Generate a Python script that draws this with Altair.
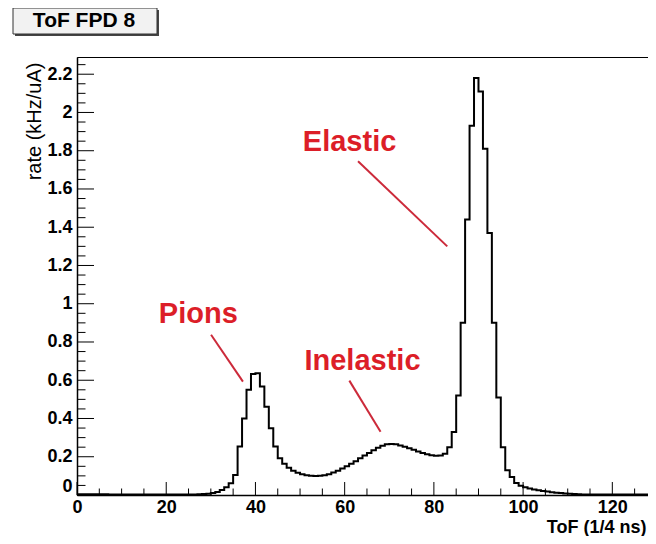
import altair as alt
import pandas as pd

# ---- data ----
tof_bins = list(range(0, 128))
rate = [
    0.004, 0.004, 0.004, 0.004, 0.004, 0.004, 0.004, 0.003, 0.003, 0.003,   # 0-9
    0.003, 0.003, 0.003, 0.003, 0.003, 0.003, 0.002, 0.002, 0.002, 0.002,   # 10-19
    0.002, 0.002, 0.002, 0.002, 0.002, 0.003, 0.003, 0.004, 0.005, 0.007,   # 20-29
    0.010, 0.016, 0.026, 0.040, 0.062, 0.105, 0.253, 0.400, 0.550, 0.632,   # 30-39
    0.637, 0.567, 0.462, 0.349, 0.253, 0.192, 0.164, 0.142, 0.127, 0.116,   # 40-49
    0.108, 0.103, 0.100, 0.099, 0.100, 0.103, 0.109, 0.117, 0.127, 0.138,   # 50-59
    0.150, 0.163, 0.177, 0.192, 0.206, 0.220, 0.234, 0.247, 0.258, 0.265,   # 60-69
    0.267, 0.265, 0.259, 0.252, 0.244, 0.236, 0.228, 0.220, 0.213, 0.208,   # 70-79
    0.205, 0.207, 0.216, 0.250, 0.330, 0.520, 0.900, 1.440, 1.930, 2.180,   # 80-89
    2.110, 1.810, 1.370, 0.900, 0.510, 0.250, 0.130, 0.094, 0.063, 0.048,   # 90-99
    0.040, 0.034, 0.029, 0.025, 0.021, 0.018, 0.015, 0.012, 0.010, 0.008,   # 100-109
    0.006, 0.005, 0.004, 0.003, 0.002, 0.002, 0.002, 0.002, 0.002, 0.002,   # 110-119
    0.002, 0.002, 0.002, 0.002, 0.002, 0.002, 0.002, 0.002,                 # 120-127
]
x_major = [0, 20, 40, 60, 80, 100, 120]
x_minor = [v for v in range(5, 130, 5) if v % 20 != 0]
y_major = [0, 0.2, 0.4, 0.6, 0.8, 1, 1.2, 1.4, 1.6, 1.8, 2, 2.2]
y_minor = [round(0.05 * i, 2) for i in range(1, 46) if i % 4 != 0]

ann_text = ["Pions", "Inelastic", "Elastic"]
ann_x = [27.2, 64.0, 61.1]
ann_y = [0.948, 0.702, 1.843]
arr_x = [30.05, 61.05, 63.0]
arr_y = [0.838, 0.598, 1.745]
arr_x2 = [37.2, 68.05, 83.0]
arr_y2 = [0.593, 0.331, 1.300]

W, H = 571, 438
FONT = "Liberation Sans"
RED = "#dc1e28"

xs = alt.Scale(domain=[0, 128], nice=False, zero=False)
ys = alt.Scale(domain=[0, 2.29], nice=False, zero=False)

x_axis = alt.Axis(
    values=x_major, tickSize=0, grid=False, labelFont=FONT, labelFontSize=18,
    labelFontWeight="bold", labelColor="black", labelPadding=3, labelFlush=False,
    domainColor="black", domainWidth=1.5,
    title="ToF (1/4 ns)", titleFont=FONT, titleFontSize=18, titleFontWeight="bold",
    titleColor="black", titleAlign="right", titleAnchor="end", titleX=W - 2,
    titleY=37.5, titleBaseline="alphabetic")
y_axis = alt.Axis(
    values=y_major, format="~g", tickSize=0, grid=False, labelFont=FONT,
    labelFontSize=18, labelFontWeight="bold", labelColor="black", labelPadding=5,
    labelFlush=True, domainColor="black", domainWidth=1.5,
    title="rate (kHz/uA)", titleFont=FONT, titleFontSize=20, titleFontWeight="normal",
    titleColor="black", titleAlign="right", titleAnchor="end", titleX=-43, titleY=5,
    titleBaseline="middle")

hist = pd.DataFrame({"tof": tof_bins + [128], "rate": rate + [rate[-1]]})

line = alt.Chart(hist).mark_line(
    interpolate="step-after", color="black", strokeWidth=2, strokeJoin="miter"
).encode(
    x=alt.X("tof:Q", scale=xs, axis=x_axis),
    y=alt.Y("rate:Q", scale=ys, axis=y_axis),
)

xmaj = alt.Chart(pd.DataFrame({"t": x_major})).mark_rule(color="black", strokeWidth=1).encode(
    x=alt.X("t:Q", scale=xs, axis=x_axis), y=alt.value(H), y2=alt.value(H - 13))
xmin = alt.Chart(pd.DataFrame({"t": x_minor})).mark_rule(color="black", strokeWidth=1).encode(
    x=alt.X("t:Q", scale=xs, axis=x_axis), y=alt.value(H), y2=alt.value(H - 6.5))
ymaj = alt.Chart(pd.DataFrame({"t": y_major})).mark_rule(color="black", strokeWidth=1).encode(
    y=alt.Y("t:Q", scale=ys, axis=y_axis), x=alt.value(0), x2=alt.value(17))
ymin = alt.Chart(pd.DataFrame({"t": y_minor})).mark_rule(color="black", strokeWidth=1).encode(
    y=alt.Y("t:Q", scale=ys, axis=y_axis), x=alt.value(0), x2=alt.value(8.5))

ann_df = pd.DataFrame({"label": ann_text, "x": ann_x, "y": ann_y})
ann = alt.Chart(ann_df).mark_text(
    font=FONT, fontSize=29, fontWeight="bold", color=RED, align="center", baseline="middle"
).encode(x=alt.X("x:Q", scale=xs, axis=x_axis), y=alt.Y("y:Q", scale=ys, axis=y_axis),
         text="label:N")

arr_df = pd.DataFrame({"x": arr_x, "y": arr_y, "x2": arr_x2, "y2": arr_y2})
arrows = alt.Chart(arr_df).mark_rule(color="#cc2a3a", strokeWidth=2).encode(
    x=alt.X("x:Q", scale=xs, axis=x_axis), y=alt.Y("y:Q", scale=ys, axis=y_axis),
    x2="x2:Q", y2="y2:Q")

dummy = pd.DataFrame({"a": [0]})
shadow = alt.Chart(dummy).mark_rect(color="#444444").encode(
    x=alt.value(-62), x2=alt.value(82), y=alt.value(-47), y2=alt.value(-21))
box = alt.Chart(dummy).mark_rect(fill="#f2f2f2", stroke="#333333", strokeWidth=1).encode(
    x=alt.value(-64), x2=alt.value(80), y=alt.value(-49), y2=alt.value(-23))
box_text = alt.Chart(dummy).mark_text(
    text="ToF FPD 8", font=FONT, fontSize=21, fontWeight="bold", color="black",
    align="center", baseline="middle").encode(x=alt.value(7), y=alt.value(-36))

chart = alt.layer(
    xmin, xmaj, ymin, ymaj, line, arrows, ann, shadow, box, box_text
).properties(
    width=W, height=H,
    autosize=alt.AutoSizeParams(type="none"),
    padding={"left": 69, "top": 49, "right": 0, "bottom": 41},
    background="white",
).configure_view(stroke="black", strokeWidth=1)

chart.save("out.html", embed_options={"renderer": "svg", "actions": False})
